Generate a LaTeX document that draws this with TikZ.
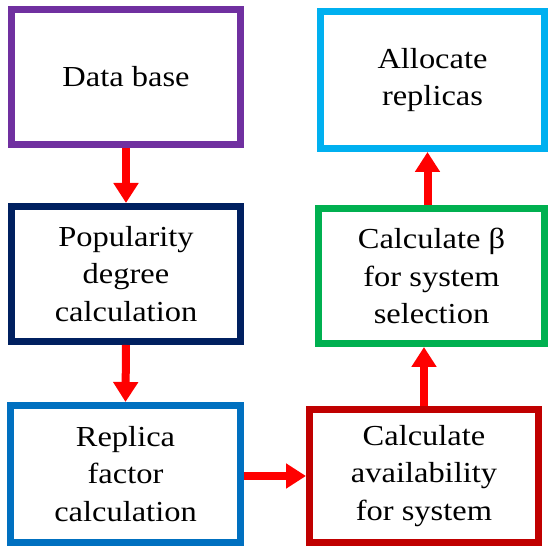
\documentclass[tikz,border=0pt]{standalone}
\usepackage{fontspec}
\setmainfont[FakeStretch=1.12]{Liberation Serif}
\usetikzlibrary{arrows.meta,positioning}
\definecolor{dbpurple}{HTML}{7030A0}
\definecolor{popnavy}{HTML}{002060}
\definecolor{repblue}{HTML}{0070C0}
\definecolor{avred}{HTML}{C00000}
\definecolor{betagreen}{HTML}{00B050}
\definecolor{allocblue}{HTML}{00B0F0}

\begin{document}
\begin{tikzpicture}[blk/.style={draw,line width=0.14cm,fill=white,minimum width=4.58cm,
		minimum height=2.7cm,align=center,inner sep=0pt,
		font=\fontsize{16.5}{21.3}\selectfont},
	flow/.style={draw=red,line width=0.16cm,-{Triangle[width=0.48cm,length=0.4cm]}}]
	\useasboundingbox[fill=white] (0,0) rectangle (10.96,-10.92);
	\node[blk,draw=dbpurple] (db) at (2.52,-1.54) {Data base};
	\node[blk,draw=popnavy] (pop) at (2.52,-5.48) {Popularity\\degree\\calculation};
	\node[blk,draw=repblue,minimum height=2.74cm] (rep) at (2.51,-9.48) {Replica\\factor\\calculation};
	\node[blk,draw=avred,minimum height=2.66cm] (av) at (8.48,-9.52) {Calculate\\availability\\for system};
	\node[blk,draw=betagreen,minimum width=4.52cm] (beta) at (8.63,-5.52) {Calculate β\\for system\\selection};
	\node[blk,draw=allocblue,minimum width=4.48cm,minimum height=2.74cm] (alloc) at (8.65,-1.60) {Allocate\\replicas};
	\draw[flow] (db.south) -- (pop.north);
	\draw[flow] (pop.south) -- (rep.north);
	\draw[flow] (rep.east |- av.west) -- (av.west);
	\draw[flow] (av.north) -- (av.north |- beta.south);
	\draw[flow] ([xshift=-0.08cm]beta.north) -- ([xshift=-0.08cm]beta.north |- alloc.south);
\end{tikzpicture}
\end{document}
